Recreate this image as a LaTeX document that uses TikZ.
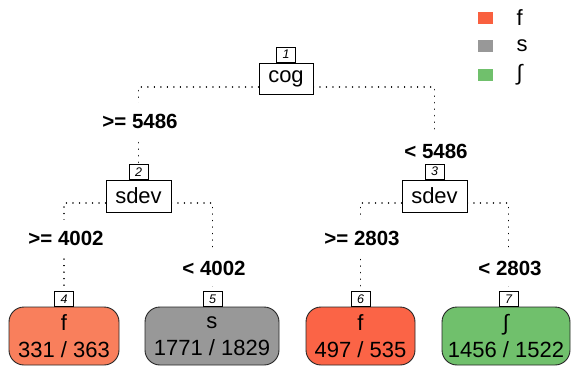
\documentclass[tikz,border=0pt]{standalone}
\usepackage{fontspec}
\setmainfont{Liberation Sans}
\usetikzlibrary{calc,backgrounds}
\definecolor{cf}{HTML}{F9603F}
\definecolor{cfl}{HTML}{F97F5C}
\definecolor{cfd}{HTML}{FB6446}
\definecolor{cs}{HTML}{989898}
\definecolor{cg}{HTML}{70C06C}
\tikzset{
  split/.style={draw=black, line width=0.9pt, fill=white, inner sep=0pt,
    minimum height=31pt, font=\fontsize{22}{24}\selectfont},
  numlab/.style={draw=black, line width=0.8pt, fill=white, inner sep=0pt,
    minimum width=19pt, minimum height=15pt, font=\fontsize{12.5}{12}\selectfont\itshape},
  leaf/.style={draw=black!85, line width=0.9pt, rounded corners=15pt, inner sep=0pt,
    minimum height=58pt, align=center, font=\fontsize{22}{27}\selectfont},
  cond/.style={fill=white, inner xsep=2pt, inner ysep=11pt, font=\fontsize{20.5}{22}\selectfont\bfseries},
  dotline/.style={line width=1.5pt, line cap=round, dash pattern=on 0.01pt off 6.5pt},
  legsq/.style={fill=#1, minimum width=15pt, minimum height=12pt, inner sep=0pt},
  legtxt/.style={anchor=west, inner sep=0pt, font=\fontsize{22}{24}\selectfont},
}
\begin{document}
\begin{tikzpicture}[x=1pt,y=-1pt]
\useasboundingbox (0,0) rectangle (574,367);
% split nodes
\node[split, minimum width=54pt] (cog) at (286,78.5) {cog};
\node[numlab, anchor=south] (l1) at (cog.north) {1};
\node[split, minimum width=65pt, minimum height=32pt] (s2) at (138.5,196) {sdev};
\node[numlab, anchor=south] (l2) at (s2.north) {2};
\node[split, minimum width=65pt, minimum height=32pt] (s3) at (434.5,196) {sdev};
\node[numlab, anchor=south] (l3) at (s3.north) {3};
% leaves
\node[leaf, fill=cfl, minimum width=110pt] (f4) at (64,336) {f\\331 / 363};
\node[numlab, anchor=south] (l4) at (64,307) {4};
\node[leaf, fill=cs, minimum width=134pt] (f5) at (212,336) {s\\1771 / 1829};
\node[numlab, anchor=south] (l5) at (212.5,307) {5};
\node[leaf, fill=cfd, minimum width=109pt] (f6) at (360.5,336) {f\\497 / 535};
\node[numlab, anchor=south] (l6) at (360.5,307) {6};
\node[leaf, fill=cg, minimum width=128pt] (f7) at (506,336) {∫\\1456 / 1522};
\node[numlab, anchor=south] (l7) at (508.5,307) {7};
\begin{scope}[on background layer]
% connectors
\draw[dotline] ([yshift=-8.5pt]cog.west) -| (l2.north);
\draw[dotline] ([yshift=-8.5pt]cog.east) -| (l3.north);
\draw[dotline] ([yshift=-7pt]s2.west) -| (l4.north);
\draw[dotline] ([yshift=-7pt]s2.east) -| (l5.north);
\draw[dotline] ([yshift=-7pt]s3.west) -| (l6.north);
\draw[dotline] ([yshift=-7pt]s3.east) -| (l7.north);
% condition labels
\node[cond] (c1) at (140,121) {>= 5486};
\node[cond] (c2) at (436,151) {< 5486};
\node[cond] (c3) at (66,238) {>= 4002};
\node[cond] (c4) at (214,268) {< 4002};
\node[cond] (c5) at (362,238) {>= 2803};
\node[cond] (c6) at (510,268) {< 2803};
\end{scope}
% legend
\node[legsq=cf] (q1) at (485.5,17.5) {};
\node[legsq=cs] (q2) at (485.5,46) {};
\node[legsq=cg] (q3) at (485.5,75) {};
\node[legtxt] (t1) at (516.5,17.5) {f};
\node[legtxt] (t2) at (516.5,46) {s};
\node[legtxt] (t3) at (516.5,75) {∫};
\end{tikzpicture}
\end{document}
